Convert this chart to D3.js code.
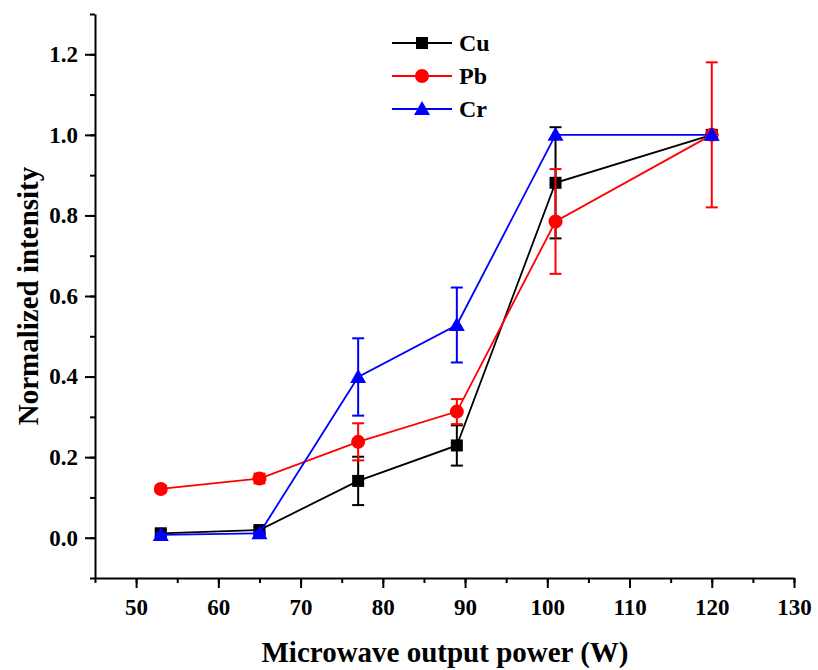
<html>
<head>
  <script src="https://d3js.org/d3.v7.min.js"></script>
  <style>
    body { margin: 0; background: #fff; }
    text { font-family: "Liberation Serif", "Times New Roman", serif; font-weight: bold; }
  </style>
</head>
<body>
  <svg width="818" height="670"></svg>
  <script>
    // data
    var power = [53, 65, 77, 89, 101, 120];
    var cuVal = [0.011, 0.019, 0.141, 0.229, 0.881, 1.0];
    var cuErr = [0.008, 0.008, 0.06, 0.05, 0.138, 0.0];
    var pbVal = [0.121, 0.147, 0.238, 0.313, 0.785, 1.0];
    var pbErr = [0.008, 0.012, 0.046, 0.031, 0.13, 0.18];
    var crVal = [0.007, 0.011, 0.399, 0.528, 1.0, 1.0];
    var crErr = [0.004, 0.004, 0.096, 0.093, 0.0, 0.0];
    var xTicks = [50, 60, 70, 80, 90, 100, 110, 120, 130];
    var yTicks = [0.0, 0.2, 0.4, 0.6, 0.8, 1.0, 1.2];

    var series = [
      { name: "Cu", color: "#000000", shape: "square", v: cuVal, e: cuErr },
      { name: "Pb", color: "#ff0000", shape: "circle", v: pbVal, e: pbErr },
      { name: "Cr", color: "#0000ff", shape: "triangle", v: crVal, e: crErr }
    ];

    var svg = d3.select("svg");
    var x = d3.scaleLinear().domain([45, 130]).range([95, 794]);
    var y = d3.scaleLinear().domain([-0.1, 1.3]).range([578, 14]);

    // minor ticks
    svg.append("g")
      .attr("transform", "translate(0,578)")
      .call(d3.axisBottom(x).tickValues(d3.range(45, 131, 5)).tickSize(5).tickFormat(""))
      .call(function(g) { g.selectAll("line").attr("stroke-width", 2); g.select(".domain").remove(); });
    svg.append("g")
      .attr("transform", "translate(95,0)")
      .call(d3.axisLeft(y).tickValues(d3.range(-1, 14).map(function(d) { return d / 10; })).tickSize(5).tickFormat(""))
      .call(function(g) { g.selectAll("line").attr("stroke-width", 2); g.select(".domain").remove(); });

    // major axes
    var xAxis = svg.append("g")
      .attr("transform", "translate(0,578)")
      .call(d3.axisBottom(x).tickValues(xTicks).tickSize(10).tickSizeOuter(0).tickPadding(11));
    var yAxis = svg.append("g")
      .attr("transform", "translate(95,0)")
      .call(d3.axisLeft(y).tickValues(yTicks).tickSize(10).tickSizeOuter(0).tickPadding(7)
        .tickFormat(d3.format(".1f")));
    [xAxis, yAxis].forEach(function(a) {
      a.select(".domain").attr("stroke-width", 2);
      a.selectAll("line").attr("stroke-width", 2);
      a.selectAll("text").attr("fill", "#000")
        .style("font-size", "23px")
        .style("font-family", "'Liberation Serif', serif")
        .style("font-weight", "bold");
    });

    svg.append("text")
      .attr("x", 445).attr("y", 662)
      .attr("text-anchor", "middle")
      .attr("font-size", "29px")
      .text("Microwave output power (W)");
    svg.append("text")
      .attr("transform", "translate(38,296) rotate(-90)")
      .attr("text-anchor", "middle")
      .attr("font-size", "29px")
      .text("Normalized intensity");

    function marker(g, shape, color) {
      if (shape == "square") {
        g.append("rect").attr("x", -6).attr("y", -6).attr("width", 12).attr("height", 12).attr("fill", color);
      } else if (shape == "circle") {
        g.append("circle").attr("r", 7).attr("fill", color);
      } else {
        g.append("path").attr("d", "M0,-8L8,6L-8,6Z").attr("fill", color);
      }
    }

    var line = d3.line()
      .x(function(d) { return x(d[0]); })
      .y(function(d) { return y(d[1]); });

    series.forEach(function(s) {
      var pts = power.map(function(p, i) { return [p, s.v[i], s.e[i]]; });
      var g = svg.append("g");
      g.append("path")
        .datum(pts)
        .attr("d", line)
        .attr("fill", "none")
        .attr("stroke", s.color)
        .attr("stroke-width", 1.8);
      pts.forEach(function(d) {
        if (d[2] <= 0) return;
        var eb = g.append("g").attr("stroke", s.color).attr("stroke-width", 2);
        eb.append("line").attr("x1", x(d[0])).attr("x2", x(d[0]))
          .attr("y1", y(d[1] - d[2])).attr("y2", y(d[1] + d[2]));
        [d[1] - d[2], d[1] + d[2]].forEach(function(v) {
          eb.append("line").attr("x1", x(d[0]) - 6).attr("x2", x(d[0]) + 6)
            .attr("y1", y(v)).attr("y2", y(v));
        });
      });
      pts.forEach(function(d) {
        marker(g.append("g").attr("transform", "translate(" + x(d[0]) + "," + y(d[1]) + ")"), s.shape, s.color);
      });
    });

    // legend
    var legend = svg.append("g");
    series.forEach(function(s, i) {
      var ly = 43 + i * 33;
      legend.append("line")
        .attr("x1", 392).attr("x2", 452).attr("y1", ly).attr("y2", ly)
        .attr("stroke", s.color).attr("stroke-width", 1.8);
      marker(legend.append("g").attr("transform", "translate(422," + ly + ")"), s.shape, s.color);
      legend.append("text")
        .attr("x", 459).attr("y", ly + 8)
        .attr("font-size", "24px")
        .text(s.name);
    });
  </script>
</body>
</html>
